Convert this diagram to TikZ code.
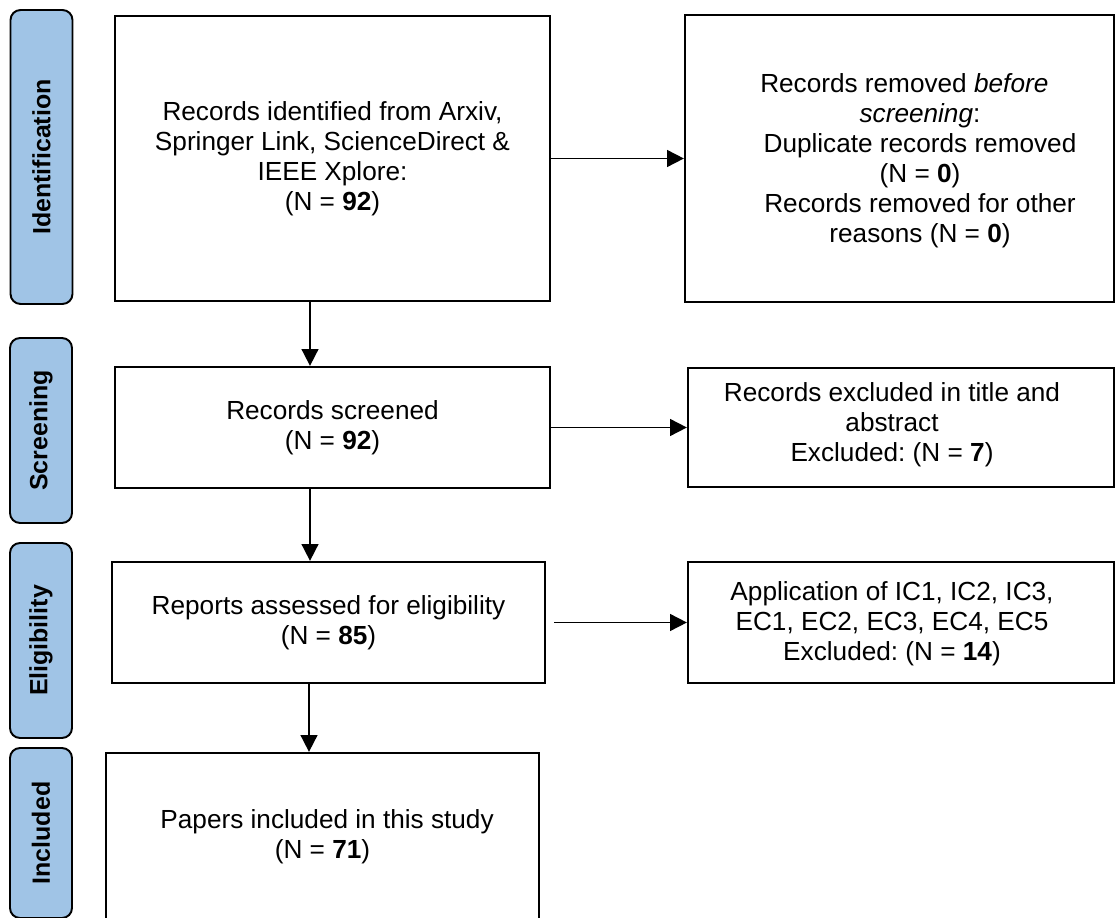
\documentclass[tikz,border=0pt]{standalone}
\usepackage{fontspec}
\setmainfont{Liberation Sans}
\usepackage{xcolor}
\usetikzlibrary{arrows.meta}
\definecolor{phaseblue}{RGB}{160,196,230}

\begin{document}
\frenchspacing
\begin{tikzpicture}[x=0.02cm,y=-0.02cm,
  phase/.style={draw,line width=1.1pt,fill=phaseblue,rounded corners=0.2cm,rotate=90,
    minimum height=1.24cm,inner sep=0pt,font=\fontsize{14.2}{16}\selectfont\bfseries},
  box/.style={draw,line width=1.3pt,inner sep=0pt,align=center,font=\fontsize{14.9}{17.1}\selectfont},
  txt/.style={align=center,inner sep=0pt,font=\fontsize{14.9}{17.1}\selectfont},
  flow/.style={line width=1pt,-{Triangle[length=9.5pt,width=9.5pt]}}]
\clip (0,0) rectangle (1115,918);
% phases on the left
\node[phase,minimum width=5.88cm] (idbar)  at (41.5,157)  {Identification};
\node[phase,minimum width=3.70cm] (scrbar) at (41,430.5)  {Screening};
\node[phase,minimum width=3.90cm] (elbar)  at (41,640.5)  {Eligibility};
\node[phase,minimum width=3.40cm] (incbar) at (41,833)    {Included};
% main column
\node[box,minimum width=8.7cm,minimum height=5.7cm] (ident) at (332.5,158.5)
  {Records identified from Arxiv,\\ Springer Link, ScienceDirect \&\\ IEEE Xplore:\\ (N = \textbf{92})};
\node[box,minimum width=8.7cm,minimum height=2.42cm] (scr) at (332.5,427.5)
  {Records screened\\ (N = \textbf{92})};
\node[box,minimum width=8.66cm,minimum height=2.42cm] (elig) at (328.5,622.5)
  {Reports assessed for eligibility\\ (N = \textbf{85})};
\node[box,minimum width=8.66cm,minimum height=3.34cm] (incl) at (322.5,836.5)
  {\hspace*{0.35em}Papers included in this study\\ (N = \textbf{71})};
% right column
\node[box,minimum width=8.58cm,minimum height=5.74cm] (rem) at (899.5,158.5) {};
\node[txt] (remtxt) at (920,161)
  {Records removed \textit{before}\hspace*{1.2em}\\ \textit{screening}:\hspace*{1.2em}\\
   Duplicate records removed\\ (N = \textbf{0})\\ Records removed for other\\ reasons (N = \textbf{0})};
\node[box,minimum width=8.52cm,minimum height=2.38cm] (exc) at (901,427.5) {};
\node[txt] (exctxt) at (892,425)
  {Records excluded in title and\\ abstract\\ Excluded: (N = \textbf{7})};
\node[box,minimum width=8.52cm,minimum height=2.42cm] (elex) at (901,622.5) {};
\node[txt] (elextxt) at (892,624)
  {Application of IC1, IC2, IC3,\\ EC1, EC2, EC3, EC4, EC5\\ Excluded: (N = \textbf{14})};
% arrows
\draw[flow] ([xshift=-0.45cm]ident.south) -- ([xshift=-0.45cm]ident.south |- scr.north);
\draw[flow] ([xshift=-0.45cm]scr.south) -- ([xshift=-0.45cm]scr.south |- elig.north);
\draw[flow] ([xshift=-0.39cm]elig.south) -- ([xshift=-0.39cm]elig.south |- incl.north);
\draw[flow] (ident) -- (rem);
\draw[flow] (scr) -- (exc);
\draw[flow] ([xshift=0.16cm]elig.east) -- (elex);
\end{tikzpicture}
\end{document}
